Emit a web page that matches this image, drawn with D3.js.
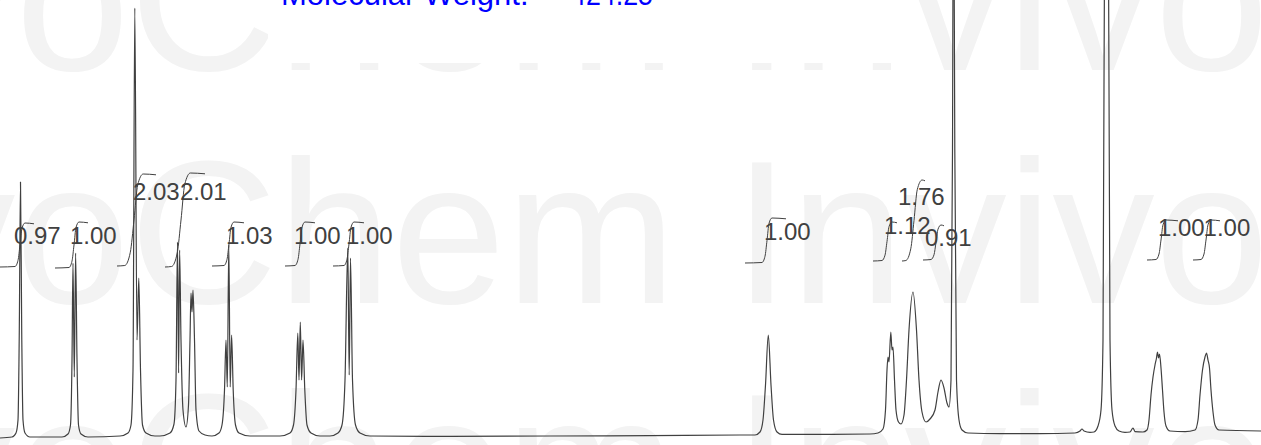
<!DOCTYPE html>
<html>
<head>
<meta charset="utf-8">
<title>1H NMR</title>
<script src="https://cdn.jsdelivr.net/npm/d3@7"></script>
<style>
	body { margin: 0; background: #fff; }
	svg { display: block; }
</style>
</head>
<body>
<div id="chart"></div>
<script>
// Spectrum trace, [chemical shift (ppm), intensity (%)]
const aromaticTrace = [
	[8.030, 0], [7.970, 0.25], [7.950, 1.25], [7.940, 4.5], [7.9335, 27], [7.9275, 64], [7.9215, 27], [7.915, 4.5], [7.905, 1.25], [7.880, 0.25],
	[7.720, 0.25], [7.690, 1], [7.6775, 3.25], [7.670, 19.5], [7.665, 43.75], [7.6585, 15.25], [7.652, 46.25], [7.645, 19.5], [7.6375, 3.25], [7.625, 1], [7.590, 0.25],
	[7.430, 0.5], [7.390, 1.25], [7.375, 3.25], [7.365, 17], [7.356, 107.5], [7.345, 24.5], [7.336, 40], [7.3275, 17], [7.3175, 3.25], [7.300, 1.25], [7.255, 0.5],
	[7.230, 0.5], [7.180, 1.25], [7.160, 3.5], [7.150, 14.5], [7.1425, 49], [7.137, 16.25], [7.132, 47], [7.125, 24.5], [7.115, 7], [7.100, 2.75],
	[7.0875, 8.25], [7.080, 24.5], [7.075, 36.25], [7.070, 31.5], [7.065, 37], [7.0575, 24.5], [7.050, 7], [7.035, 1.75], [7.005, 0.75],
	[6.970, 0.5], [6.935, 1.25], [6.920, 3.25], [6.9075, 12], [6.900, 24.5], [6.8935, 12.75], [6.886, 48.25], [6.879, 12.75], [6.872, 25.75], [6.864, 12], [6.8525, 3.25], [6.835, 1.25], [6.780, 0.5],
	[6.630, 0.5], [6.580, 1.25], [6.5625, 3.25], [6.550, 12], [6.541, 26.25], [6.535, 14.5], [6.5285, 29], [6.522, 14.5], [6.515, 24.5], [6.506, 12], [6.495, 3.25], [6.475, 1.25], [6.430, 0.5],
	[6.380, 0.5], [6.340, 1.25], [6.320, 3.25], [6.305, 14.5], [6.291, 47.5], [6.284, 15.75], [6.2775, 45], [6.2675, 14.5], [6.2525, 3.25], [6.230, 1.25], [6.180, 0.5]
];

const midTrace = [
	[5.780, 0.4], [5.280, 0.5], [4.780, 0.6], [4.330, 0.75],
	[4.255, 0.75], [4.230, 1.5], [4.215, 4.5], [4.2025, 13.25], [4.1885, 25.75], [4.175, 13.25], [4.1625, 4.5], [4.145, 1.5], [4.120, 0.9],
	[3.930, 0.9], [3.680, 1],
	[3.640, 1.25], [3.615, 2.25], [3.6025, 7], [3.595, 17], [3.590, 20.25], [3.585, 19], [3.576, 26.5], [3.570, 22], [3.565, 22.75], [3.5575, 14.5], [3.550, 7], [3.5375, 4],
	[3.525, 3.5], [3.510, 5.75], [3.4975, 14.5], [3.485, 27], [3.465, 36.5], [3.4475, 27], [3.435, 14.5], [3.420, 6.5], [3.400, 4],
	[3.380, 4.75], [3.355, 7], [3.340, 11.5], [3.325, 14.5], [3.310, 12.5], [3.295, 8.75], [3.285, 7.75],
	[3.275, 14.5], [3.2675, 72], [3.2625, 150], [3.256, 72], [3.2475, 14.5], [3.235, 4.5], [3.220, 2], [3.190, 1.25]
];

const aliphaticTrace = [
	[3.030, 1.1], [2.830, 1.1], [2.655, 1.25], [2.630, 1.75], [2.620, 2.25], [2.610, 1.75], [2.580, 1.4],
	[2.560, 1.5], [2.540, 3], [2.525, 7], [2.515, 24.5], [2.505, 150], [2.4975, 160], [2.490, 150], [2.480, 24.5], [2.470, 7], [2.455, 3],
	[2.435, 1.75], [2.405, 1.4], [2.380, 1.5], [2.365, 2.5], [2.355, 1.6], [2.315, 1.5],
	[2.295, 2], [2.285, 4.5], [2.275, 10.75], [2.265, 15.25], [2.255, 18.25], [2.2475, 20], [2.2425, 21.5], [2.2375, 20], [2.2325, 21], [2.225, 17.5], [2.2175, 12], [2.210, 6.5], [2.200, 3], [2.180, 1.75], [2.105, 1.6],
	[2.055, 2], [2.040, 4.5], [2.030, 10.75], [2.0175, 17], [2.005, 20.25], [1.9975, 21.25], [1.990, 19.5], [1.9825, 17.5], [1.975, 12], [1.965, 6.5], [1.955, 3.25], [1.935, 2], [1.725, 1.75]
];

// Integral curves: start, rise and end shift (ppm), low and high level (%)
const integralStart = [8.030, 7.755, 7.445, 7.205, 6.970, 6.605, 6.365, 4.305, 3.665, 3.520, 3.415, 2.295, 2.065];
const integralRise  = [7.930, 7.660, 7.360, 7.125, 6.885, 6.530, 6.285, 4.195, 3.595, 3.460, 3.350, 2.225, 2.000];
const integralEnd   = [7.860, 7.590, 7.250, 7.005, 6.810, 6.455, 6.210, 4.100, 3.545, 3.405, 3.310, 2.140, 1.930];
const integralLow   = [42.75, 42.5, 43, 42.75, 43, 43, 43, 43.75, 44.25, 44.25, 44.5, 44.5, 44.5];
const integralHigh  = [53.75, 54, 66, 66.25, 54, 54, 54, 55, 54, 64.5, 53.25, 54.5, 54.5];

// Integral values printed on the plot and where they sit
const integralLabels = ['0.97', '1.00', '2.03', '2.01', '1.03', '1.00', '1.00', '1.00', '1.12', '1.76', '0.91', '1.00', '1.00'];
const labelPpm       = [7.960, 7.680, 7.365, 7.130, 6.900, 6.560, 6.300, 4.210, 3.610, 3.540, 3.405, 2.240, 2.012];
const labelIntensity = [48.5, 48.5, 59.5, 59.5, 48.5, 48.5, 48.5, 49.5, 51, 58.25, 48, 50.5, 50.5];

const titleText = ['Molecular Weight:', '424.25'];
const watermarkText = 'InvivoChem InvivoChem InvivoChem';

generateSpectrum();

// Function to draw the spectrum
function generateSpectrum() {

	const width = 1261;
	const height = 445;
	const ink = '#404040';

	// Shift runs right to left like on the printout
	const xScale = d3.scaleLinear()
						.domain([8.03, 1.725])
						.range([0, width]);

	const yScale = d3.scaleLinear()
						.domain([0, 100])
						.range([438, 38]);

	const svg = d3.select('#chart')
					.append('svg')
					.attr('width', width)
					.attr('height', height)
					.style('background', '#fff');

	// Watermark rows behind everything
	svg.selectAll('.watermark')
		.data([70, 303, 536])
		.enter()
			.append('text')
				.attr('class', 'watermark')
				.attr('x', -406)
				.attr('y', (d) => d)
				.attr('font-family', '"Liberation Sans", Arial, sans-serif')
				.attr('font-size', 205)
				.attr('fill', '#f3f3f3')
				.text(watermarkText);

	// White header box that hides the top watermark row behind the title
	svg.append('rect')
		.attr('x', 268)
		.attr('y', -10)
		.attr('width', 637)
		.attr('height', 73)
		.attr('fill', '#fff');

	// Title, mostly cut off by the top edge
	svg.append('text')
		.attr('x', 281)
		.attr('y', 5)
		.attr('font-family', '"Liberation Sans", Arial, sans-serif')
		.attr('font-size', 31)
		.attr('fill', '#0000ff')
		.text(titleText[0]);

	svg.append('text')
		.attr('x', 571)
		.attr('y', 5)
		.attr('font-family', '"Liberation Sans", Arial, sans-serif')
		.attr('font-size', 31)
		.attr('fill', '#0000ff')
		.attr('textLength', 82)
		.attr('lengthAdjust', 'spacingAndGlyphs')
		.text(titleText[1]);

	// Spectrum line
	const trace = aromaticTrace.concat(midTrace, aliphaticTrace);

	const line = d3.line()
					.x((d) => xScale(d[0]))
					.y((d) => yScale(d[1]))
					.curve(d3.curveMonotoneX);

	svg.append('path')
		.datum(trace)
		.attr('d', line)
		.attr('fill', 'none')
		.attr('stroke', ink)
		.attr('stroke-width', 1.2)
		.attr('stroke-linejoin', 'round');

	// Integral curves
	const integralLine = d3.line().curve(d3.curveMonotoneX);

	svg.selectAll('.integral')
		.data(integralRise.map((r, i) => i))
		.enter()
			.append('path')
				.attr('class', 'integral')
				.attr('d', (i) => integralLine(integralPoints(i)))
				.attr('fill', 'none')
				.attr('stroke', ink)
				.attr('stroke-width', 1);

	function integralPoints(i) {
		const x0 = xScale(integralStart[i]);
		const xr = xScale(integralRise[i]);
		const x1 = xScale(integralEnd[i]);
		const y0 = yScale(integralLow[i]);
		const y1 = yScale(integralHigh[i]);
		const h = y0 - y1;
		const w = Math.max(2, h / 25);
		return [
			[x0, y0],
			[xr - 2.5 * w, y0 - 0.5],
			[xr - w, y0 - 0.15 * h],
			[xr, y0 - 0.5 * h],
			[xr + w, y0 - 0.88 * h],
			[xr + 2.5 * w, y1],
			[x1, y1 + 0.8]
		];
	}

	// Integral values
	svg.selectAll('.label')
		.data(integralLabels)
		.enter()
			.append('text')
				.attr('class', 'label')
				.attr('x', (d, i) => xScale(labelPpm[i]))
				.attr('y', (d, i) => yScale(labelIntensity[i]))
				.attr('font-family', '"Liberation Sans", Arial, sans-serif')
				.attr('font-size', 24)
				.attr('fill', ink)
				.text((d) => d);
}
</script>
</body>
</html>
